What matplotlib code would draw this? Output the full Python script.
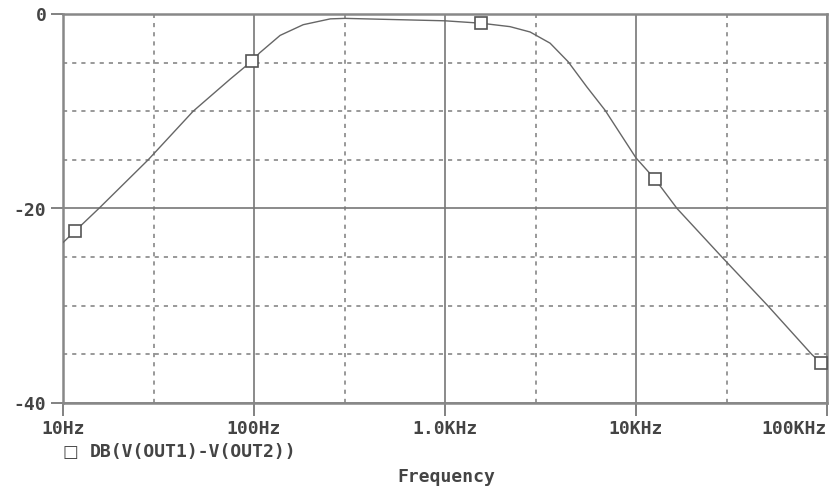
import numpy as np
import matplotlib
matplotlib.use("Agg")
import matplotlib.pyplot as plt
from matplotlib.ticker import FixedLocator, NullFormatter

# frequency response (Hz, dB)
freq = [10, 11.6, 15.4, 27.9, 48, 75, 98, 107, 137, 181, 251, 300, 1000,
        1550, 2190, 2790, 3550, 4410, 5530, 6890, 10000, 12600, 16400,
        28200, 49000, 83200, 93300, 100000]
db = [-23.5, -22.3, -20.0, -15.0, -10.0, -6.7, -4.8, -4.0, -2.2, -1.1,
      -0.5, -0.45, -0.7, -0.95, -1.3, -1.85, -3.0, -4.9, -7.5, -9.9,
      -14.8, -17.0, -20.0, -25.0, -30.0, -35.0, -35.9, -36.1]

# symbol positions on the trace
mark_f = [11.6, 98, 1550, 12600, 93300]
mark_db = [-22.3, -4.8, -0.95, -17.0, -35.9]

xticks = [10, 100, 1000, 10000, 100000]
xlabels = ['10Hz', '100Hz', '1.0KHz', '10KHz', '100KHz']
xminor = [30, 300, 3000, 30000]
yticks = [-40, -20, 0]
yminor = [-35, -30, -25, -15, -10, -5]

fig = plt.figure(figsize=(8.3, 4.9), dpi=100)
ax = fig.add_axes([63/830, 1-403/490, (827-63)/830, (403-14)/490])

txt = dict(family='DejaVu Sans Mono', fontweight='bold', color='#444444', fontsize=13)

ax.plot(freq, db, color='#666666', lw=1.0, zorder=3)
ax.plot(mark_f, mark_db, ls='none', marker='s', ms=8, mfc='white',
        mec='#555555', mew=1.2, zorder=4)

ax.set_xscale('log')
ax.set_xlim(10, 100000)
ax.set_ylim(-40, 0)

ax.xaxis.set_major_locator(FixedLocator(xticks))
ax.xaxis.set_minor_locator(FixedLocator(xminor))
ax.xaxis.set_minor_formatter(NullFormatter())
ax.set_xticks(xticks)
ax.set_xticklabels(xlabels, **txt)
ax.yaxis.set_major_locator(FixedLocator(yticks))
ax.yaxis.set_minor_locator(FixedLocator(yminor))
ax.set_yticklabels([str(v) for v in yticks], **txt)
ax.get_xticklabels()[-1].set_horizontalalignment('right')

ax.tick_params(which='major', length=9, width=1.3, color='#777777', pad=3)
ax.tick_params(which='minor', length=0)

ax.grid(which='major', color='#777777', lw=1.2, ls='-')
ax.grid(which='minor', color='#888888', lw=1.2, ls=(0, (2.5, 3)))
ax.set_axisbelow(True)

for s in ax.spines.values():
    s.set_color('#888888')
    s.set_linewidth(1.8)

# legend line under the axis
fig.text(70/830, 1-452/490, '\u25a1', ha='center', va='center',
         family='DejaVu Sans', color='#444444', fontsize=12)
fig.text(90/830, 1-452/490, 'DB(V(OUT1)-V(OUT2))', ha='left', va='center', **txt)
fig.text(446/830, 1-477/490, 'Frequency', ha='center', va='center', **txt)

fig.savefig('out.png', dpi=100, facecolor='white')
